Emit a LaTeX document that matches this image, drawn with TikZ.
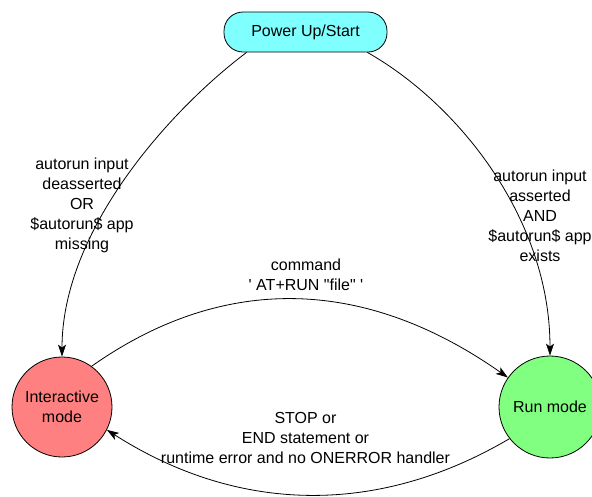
\documentclass[tikz,border=0pt]{standalone}
\usepackage{fontspec}
\setmainfont{Liberation Sans}[Ligatures=TeXOff]
\usetikzlibrary{arrows.meta}
\definecolor{startcol}{HTML}{80FFFF}
\definecolor{intcol}{HTML}{FF8080}
\definecolor{runcol}{HTML}{80FF80}
\tikzset{
  statebox/.style={draw=black, line width=0.8pt, rounded corners=19pt, minimum width=163pt, minimum height=40pt, fill=startcol, inner sep=0pt},
  statecirc/.style={draw=black, line width=0.8pt, circle, minimum size=100pt, inner sep=0pt, align=center},
  lbl/.style={align=center, inner sep=0pt},
  conn/.style={line width=0.8pt, -{Stealth[length=12pt,width=8pt,inset=3pt]}}
}
\begin{document}
\begin{tikzpicture}[x=1pt,y=-1pt,font=\fontsize{16}{20}\selectfont]
\useasboundingbox (0,0) rectangle (592,496);
\clip (0,0) rectangle (592,496);
\node[statebox] (top) at (305.5,32) {Power Up/Start};
\node[statecirc, fill=intcol] (int) at (62,407) {Interactive\\mode};
\node[statecirc, fill=runcol, minimum size=102pt] (run) at (550,407) {Run mode};
\node[lbl] (l1) at (82,205.5) {autorun input\\deasserted\\OR\\\$autorun\$ app\\missing};
\node[lbl] (l2) at (540,216) {autorun input\\asserted\\AND\\\$autorun\$ app\\exists};
\node[lbl] (l3) at (306,275) {command\\' AT+RUN "file" '};
\node[lbl] (l4) at (305.5,438) {STOP or\\END statement or\\runtime error and no ONERROR handler};
\draw[conn] ([xshift=23pt]top.south west) .. controls (170,110) and (62,230) .. (int.90);
\draw[conn] ([xshift=-20pt]top.south east) .. controls (460,105) and (550,220) .. (run.90);
\draw[conn] (int.54) .. controls (221,275) and (362,275) .. (run.145);
\draw[conn] (run.218) .. controls (380,515) and (240,515) .. (int.-27);
\end{tikzpicture}
\end{document}
